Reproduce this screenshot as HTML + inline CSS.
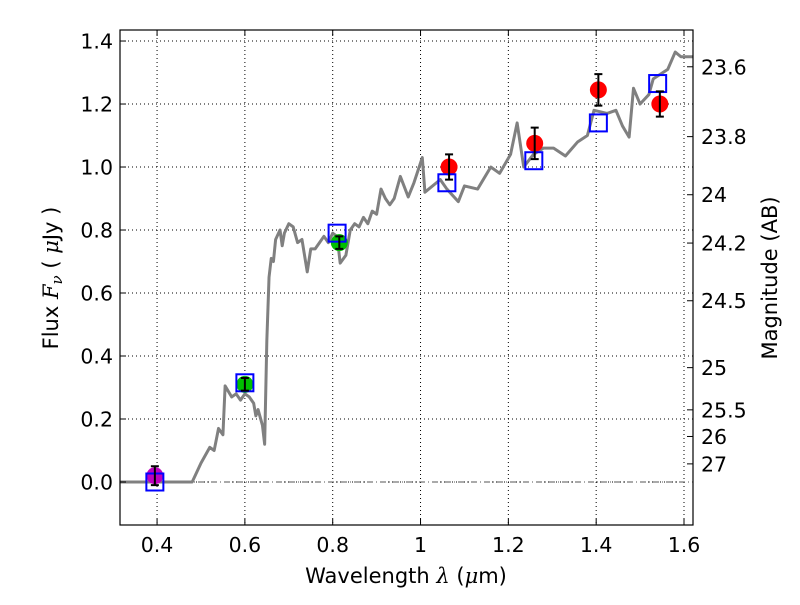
<!DOCTYPE html>
<html><head><meta charset="utf-8"><style>
body{margin:0;background:#fff}
svg{font-family:"DejaVu Sans","Liberation Sans",sans-serif}
</style></head><body>
<svg id="chart" width="800" height="600">
<rect width="800" height="600" fill="#fff"/>
<g id="grid"></g>
<g id="plot"></g>
<rect x="120" y="30" width="573" height="495" fill="none" stroke="#000" stroke-width="1.2"/>
<g id="ticks"></g>
<text x="406" y="583" font-size="21" text-anchor="middle">Wavelength  <tspan font-style="italic" font-family="DejaVu Serif,serif">λ</tspan> (<tspan font-style="italic" font-family="DejaVu Serif,serif">μ</tspan>m)</text>
<text transform="translate(58,278) rotate(-90)" font-size="21" text-anchor="middle">Flux  <tspan font-style="italic" font-family="DejaVu Serif,serif">F</tspan><tspan font-style="italic" font-size="15" dy="4" font-family="DejaVu Serif,serif">ν</tspan><tspan dy="-4">  ( </tspan><tspan font-style="italic" font-family="DejaVu Serif,serif">μ</tspan>Jy )</text>
<text transform="translate(777,278) rotate(-90)" font-size="21" text-anchor="middle">Magnitude (AB)</text>
</svg>
<script>
const specWave=[0.315,0.48,0.5,0.52,0.53,0.54,0.55,0.555,0.57,0.58,0.59,0.6,0.61,0.62,0.625,0.63,0.64,0.645,0.65,0.655,0.66,0.665,0.67,0.68,0.685,0.69,0.7,0.71,0.72,0.73,0.742,0.75,0.76,0.77,0.78,0.79,0.8,0.81,0.817,0.83,0.84,0.85,0.86,0.87,0.88,0.89,0.9,0.91,0.92,0.93,0.94,0.954,0.972,0.985,1.004,1.01,1.045,1.06,1.086,1.1,1.13,1.16,1.18,1.205,1.22,1.235,1.257,1.28,1.303,1.33,1.358,1.38,1.395,1.425,1.445,1.46,1.475,1.485,1.5,1.52,1.53,1.563,1.58,1.593,1.62];
const specFlux=[0,0,0.06,0.11,0.10,0.17,0.15,0.305,0.27,0.28,0.26,0.28,0.27,0.25,0.21,0.23,0.18,0.12,0.45,0.65,0.71,0.70,0.77,0.80,0.75,0.79,0.82,0.81,0.76,0.77,0.667,0.74,0.74,0.76,0.78,0.76,0.79,0.78,0.695,0.72,0.80,0.82,0.81,0.84,0.82,0.86,0.85,0.93,0.90,0.88,0.90,0.97,0.905,0.95,1.03,0.92,0.96,0.93,0.89,0.94,0.93,1.0,0.98,1.04,1.14,1.0,1.04,1.06,1.06,1.035,1.08,1.10,1.18,1.17,1.18,1.13,1.095,1.25,1.20,1.23,1.28,1.31,1.365,1.35,1.35];
const obsWave=[0.395,0.60,0.815,1.065,1.26,1.405,1.545];
const obsFlux=[0.02,0.31,0.76,1.0,1.075,1.245,1.2];
const obsErr=[0.03,0.02,0.02,0.04,0.05,0.05,0.04];
const obsColor=['#bf00bf','#00bf00','#00bf00','#ff0000','#ff0000','#ff0000','#ff0000'];
const modelWave=[0.395,0.60,0.81,1.06,1.258,1.405,1.54];
const modelFlux=[0.0,0.315,0.79,0.95,1.02,1.14,1.265];
const xTicks=[0.4,0.6,0.8,1.0,1.2,1.4,1.6];
const xLabels=['0.4','0.6','0.8','1','1.2','1.4','1.6'];
const yTicks=[0,0.2,0.4,0.6,0.8,1.0,1.2,1.4];
const yLabels=['0.0','0.2','0.4','0.6','0.8','1.0','1.2','1.4'];
const magTicks=[23.6,23.8,24,24.2,24.5,25,25.5,26,27];
const magLabels=['23.6','23.8','24','24.2','24.5','25','25.5','26','27'];

const X0=120,X1=693,Y0=30,Y1=525,xmin=0.3156,xmax=1.6205,ymin=-0.1365,ymax=1.435;
const sx=v=>X0+(v-xmin)/(xmax-xmin)*(X1-X0);
const sy=v=>Y1-(v-ymin)/(ymax-ymin)*(Y1-Y0);
const NS='http://www.w3.org/2000/svg';
function mk(parent,tag,attrs){const e=document.createElementNS(NS,tag);for(const k in attrs)e.setAttribute(k,attrs[k]);document.getElementById(parent).appendChild(e);return e;}

xTicks.forEach((t,i)=>{
  const g=mk('grid','line',{x1:sx(t),x2:sx(t),y1:Y0,y2:Y1,stroke:'#000','stroke-width':1,'stroke-dasharray':'1,3'});
  
  
  mk('ticks','line',{x1:sx(t),x2:sx(t),y1:Y1,y2:Y1-6,stroke:'#000'});
  mk('ticks','line',{x1:sx(t),x2:sx(t),y1:Y0,y2:Y0+6,stroke:'#000'});
  const l=mk('ticks','text',{x:sx(t),y:Y1+27,'font-size':20.5,'text-anchor':'middle'});
  l.textContent=xLabels[i];
  
  
});
yTicks.forEach((t,i)=>{
  const g=mk('grid','line',{x1:X0,x2:X1,y1:sy(t),y2:sy(t),stroke:'#000','stroke-width':1,'stroke-dasharray':'1,3'});
  
  
  mk('ticks','line',{x1:X0,x2:X0+6,y1:sy(t),y2:sy(t),stroke:'#000'});
  const l=mk('ticks','text',{x:X0-7,y:sy(t)+7.5,'font-size':20.5,'text-anchor':'end'});
  l.textContent=yLabels[i];
  
  
});
magTicks.forEach((m,i)=>{
  const f=Math.pow(10,(23.9-m)/2.5);
  mk('ticks','line',{x1:X1,x2:X1-6,y1:sy(f),y2:sy(f),stroke:'#000'});
  const l=mk('ticks','text',{x:X1+8,y:sy(f)+7.5,'font-size':20.5,'text-anchor':'start'});
  l.textContent=magLabels[i];
  
  
});
const zl=mk('plot','line',{x1:X0,x2:X1,y1:sy(0),y2:sy(0),stroke:'#555','stroke-width':1,'stroke-dasharray':'6,3,1,3'});


const sp=mk('plot','polyline',{points:specWave.map((w,i)=>sx(w)+','+sy(specFlux[i])).join(' '),fill:'none',stroke:'#808080','stroke-width':3,'stroke-linejoin':'round'});


obsWave.forEach((w,i)=>{
  const c=mk('plot','circle',{cx:sx(w),cy:sy(obsFlux[i]),r:8.5,fill:obsColor[i]});
  
  
});
modelWave.forEach((w,i)=>{
  const r=mk('plot','rect',{x:sx(w)-8.5,y:sy(modelFlux[i])-8.5,width:17,height:17,fill:'none',stroke:'#0000ff','stroke-width':2});
  
  
});
obsWave.forEach((w,i)=>{
  const x=sx(w),ya=sy(obsFlux[i]+obsErr[i]),yb=sy(obsFlux[i]-obsErr[i]);
  const e=mk('plot','path',{d:`M${x},${ya}V${yb}M${x-4},${ya}H${x+4}M${x-4},${yb}H${x+4}`,stroke:'#000','stroke-width':2,fill:'none'});
  
  
});
</script>
</body></html>
